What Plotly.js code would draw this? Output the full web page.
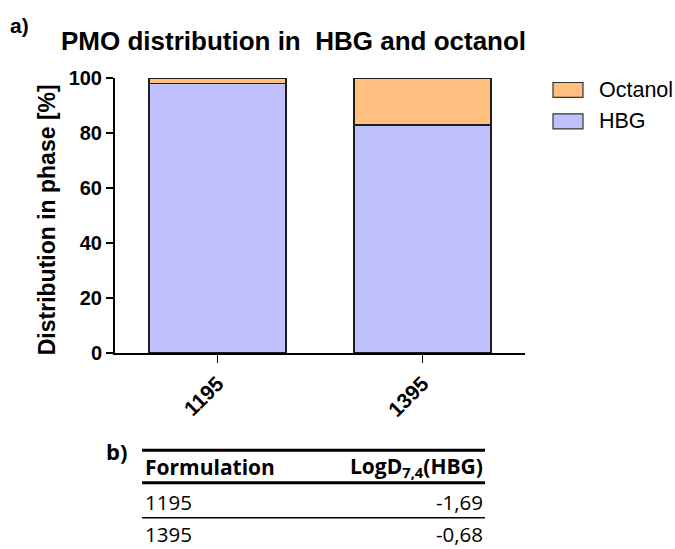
<!DOCTYPE html>
<html>
<head>
<meta charset="utf-8">
<script src="https://cdn.plot.ly/plotly-3.0.1.min.js"></script>
<style>
  html, body { margin: 0; padding: 0; background: #fff; }
  #chart { width: 675px; height: 549px; }
</style>
</head>
<body>
<div id="chart"></div>
<script>
// Formulations and phase distribution (%)
const formulations = ['1195', '1395'];
const hbgShare = [98, 83];
const octanolShare = [2, 17];

// LogD table
const tableHeader = ['Formulation', 'LogD<sub>7,4</sub>(HBG)'];
const tableFormulations = ['1195', '1395'];
const tableLogD = ['-1,69', '-0,68'];

const yTicks = [0, 20, 40, 60, 80, 100];

// Plot area in pixels
const L = 115, R = 525, T = 77.5, B = 353;
const W = R - L, H = B - T;
const fx = p => (p - L) / W;          // pixel x -> paper x
const fy = p => (B - p) / H;          // pixel y -> paper y

const sans = 'Liberation Sans, Arial, sans-serif';
const tableFont = 'Open Sans, sans-serif';

const colors = { hbg: '#C0C0FF', octanol: '#FFC080', edge: '#1e1e1e' };

const traces = [
  {
    type: 'bar', name: 'HBG', x: formulations, y: hbgShare,
    marker: { color: colors.hbg, line: { color: colors.edge, width: 1.5 } },
    hoverinfo: 'x+y+name'
  },
  {
    type: 'bar', name: 'Octanol', x: formulations, y: octanolShare,
    marker: { color: colors.octanol, line: { color: colors.edge, width: 1.5 } },
    hoverinfo: 'x+y+name'
  }
];

const annotations = [];
const shapes = [];

function note(text, x, y, opts) {
  annotations.push(Object.assign({
    text: text, xref: 'paper', yref: 'paper', x: fx(x), y: fy(y),
    showarrow: false, xanchor: 'left', yanchor: 'middle',
    font: { family: sans, size: 16, color: '#000' }
  }, opts || {}));
}

// Panel labels and title
note('<b>a)</b>', 8, 25, { font: { family: sans, size: 21, color: '#000' } });
note('<b>PMO distribution in\u00a0 HBG and octanol</b>', 59, 40, { font: { family: sans, size: 26, color: '#000' } });

// Y axis title
note('<b>Distribution in phase [%]</b>', 47, 220, {
  textangle: -90, xanchor: 'center', font: { family: sans, size: 23, color: '#000' }
});

// Legend (Octanol on top, as in the stack)
const legendItems = [
  { name: 'Octanol', color: colors.octanol, y: 89.5 },
  { name: 'HBG', color: colors.hbg, y: 121 }
];
legendItems.forEach(it => {
  shapes.push({
    type: 'rect', xref: 'paper', yref: 'paper',
    x0: fx(553), x1: fx(583), y0: fy(it.y - 7.5), y1: fy(it.y + 7.5),
    fillcolor: it.color, line: { color: '#333', width: 1.2 }
  });
  note(it.name, 597, it.y, { font: { family: sans, size: 21.5, color: '#000' } });
});

// Table b)
const tLeft = 142, tRight = 485;
note('<b>b)</b>', 104, 451, { font: { family: tableFont, size: 22, color: '#000' } });
[[450.5, 3], [483, 3], [518, 1.5]].forEach(([y, w]) => {
  shapes.push({
    type: 'line', xref: 'paper', yref: 'paper',
    x0: fx(tLeft), x1: fx(tRight), y0: fy(y), y1: fy(y),
    line: { color: '#000', width: w }
  });
});
note('<b>' + tableHeader[0] + '</b>', 143, 467, { font: { family: tableFont, size: 21, color: '#000' } });
note('<b>' + tableHeader[1] + '</b>', 485, 467, { xanchor: 'right', font: { family: tableFont, size: 21, color: '#000' } });
const rowY = [502.5, 534.5];
tableFormulations.forEach((f, i) => {
  note(f, 143, rowY[i], { font: { family: tableFont, size: 20.5, color: '#000' } });
  note(tableLogD[i], 485, rowY[i], { xanchor: 'right', font: { family: tableFont, size: 20.5, color: '#000' } });
});

const layout = {
  width: 675, height: 549,
  margin: { l: L, r: 675 - R, t: T, b: 549 - B, pad: 0 },
  paper_bgcolor: '#fff', plot_bgcolor: '#fff',
  barmode: 'stack', bargap: 0.333,
  showlegend: false,
  font: { family: sans, color: '#000' },
  xaxis: {
    type: 'category', range: [-0.5, 1.5],
    showline: true, linecolor: '#000', linewidth: 2,
    ticks: 'outside', ticklen: 8, tickwidth: 1.5, tickcolor: '#000',
    tickangle: -45, showgrid: false, zeroline: false,
    tickfont: { family: sans, size: 21, color: '#000', weight: 'bold' }
  },
  yaxis: {
    range: [0, 100], tickvals: yTicks,
    showline: true, linecolor: '#000', linewidth: 2,
    ticks: 'outside', ticklen: 7, tickwidth: 1.5, tickcolor: '#000',
    showgrid: false, zeroline: false,
    tickfont: { family: sans, size: 20, color: '#000', weight: 'bold' }
  },
  annotations: annotations,
  shapes: shapes
};

Plotly.newPlot('chart', traces, layout, { displayModeBar: false, staticPlot: true });
</script>
</body>
</html>
